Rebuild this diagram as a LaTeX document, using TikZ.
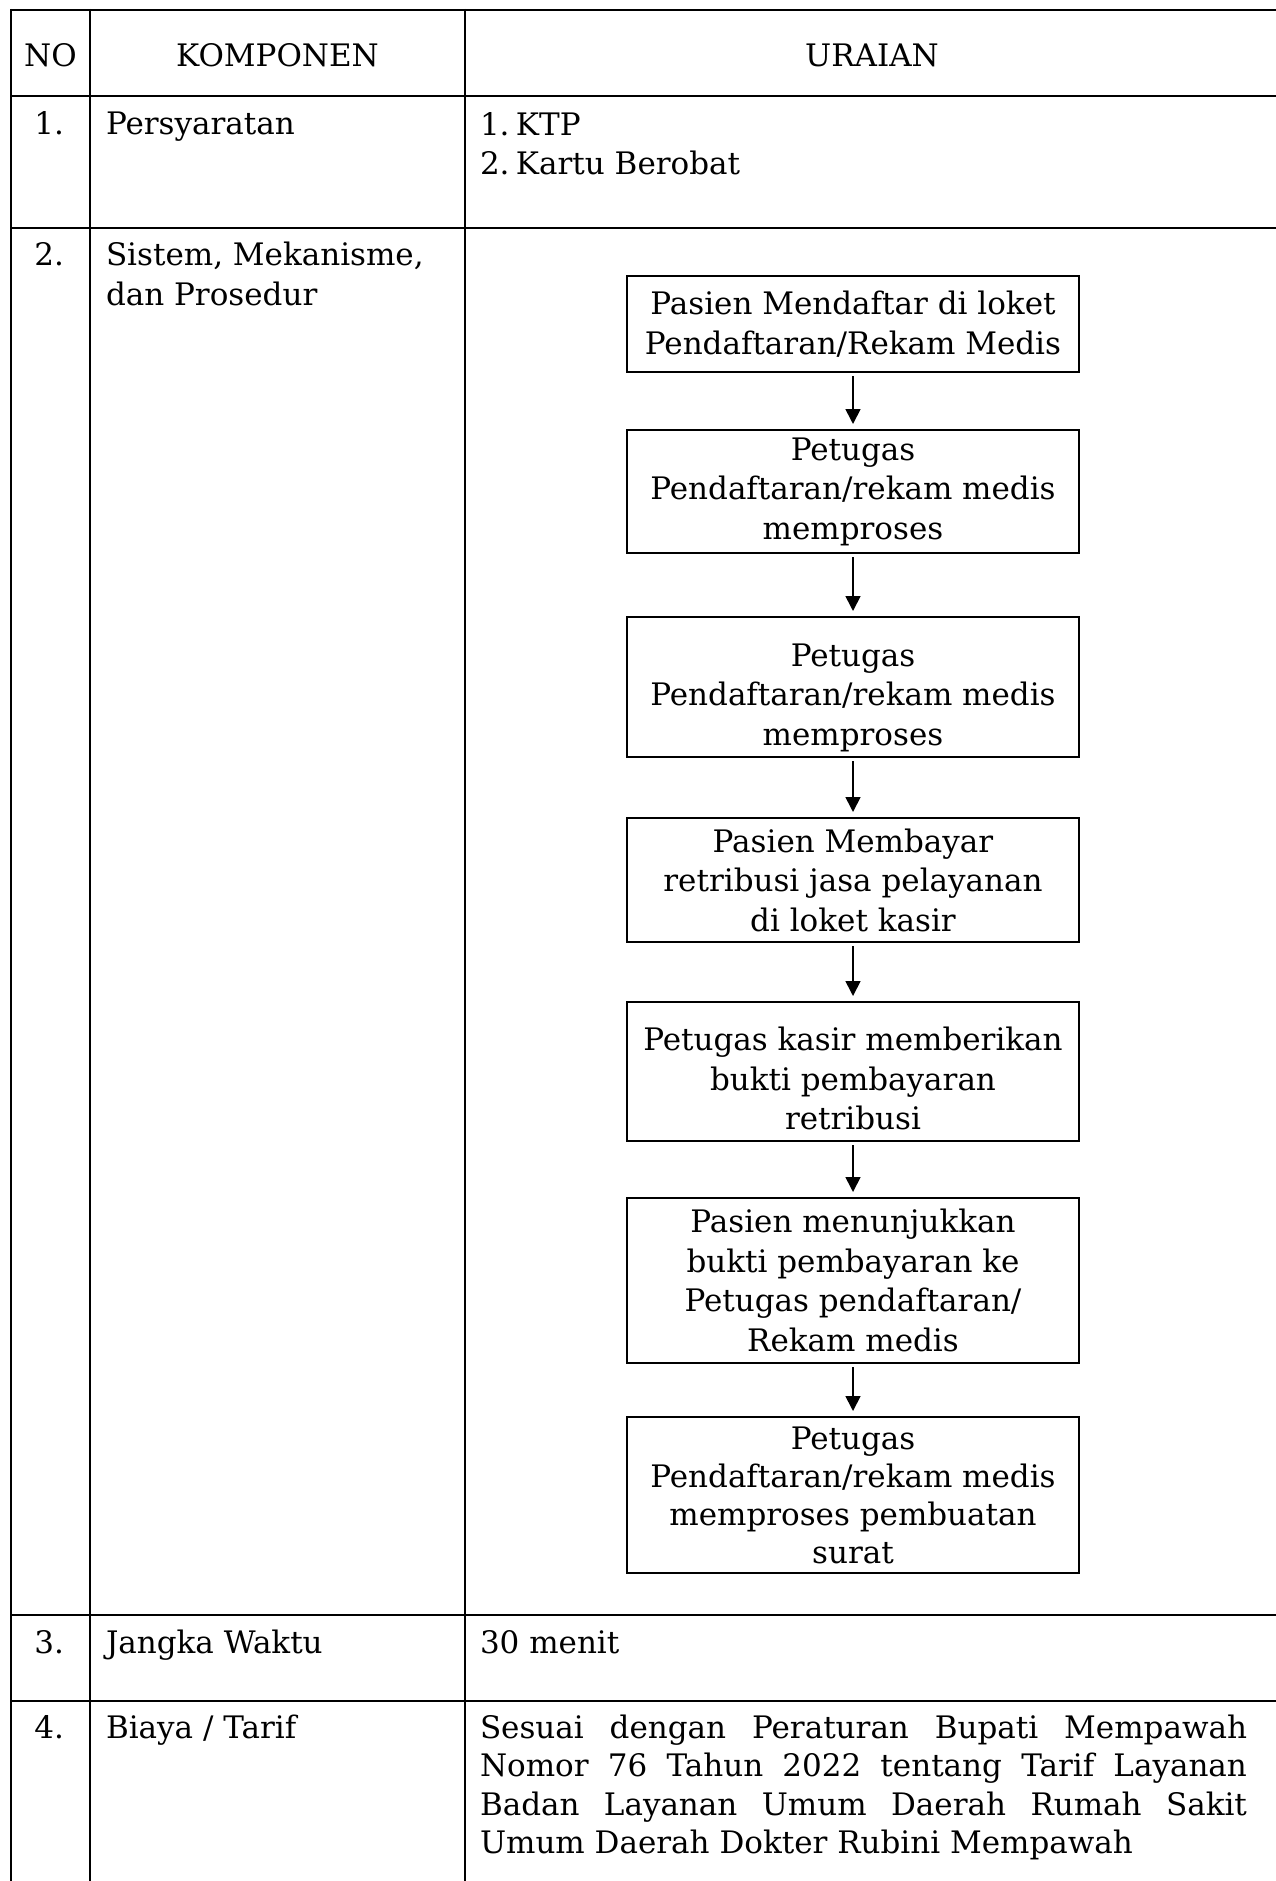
\documentclass[tikz,border=0pt]{standalone}
\usepackage{fontspec}
\setmainfont{DejaVu Serif}
\usetikzlibrary{positioning, arrows.meta}

\newcommand{\isi}{\fontsize{31}{39.5}\selectfont}

\begin{document}
\begin{tikzpicture}[x=1pt, y=-1pt,
    every node/.style={inner sep=0pt, outer sep=0pt, font=\isi},
    kotak/.style={draw, line width=2.7pt, minimum width=452pt, align=center},
    garis/.style={line width=2.7pt},
    tegak/.style={line width=1.7pt},
    >={Triangle[length=15pt, width=15pt]}]

\useasboundingbox (0,0) rectangle (1276,1881);
\clip (0,0) rectangle (1276,1881);

% Garis tabel
\draw[garis] (10,10) -- (1290,10);
\draw[garis] (10,96) -- (1290,96);
\draw[garis] (10,228) -- (1290,228);
\draw[garis] (10,1615) -- (1290,1615);
\draw[garis] (10,1701) -- (1290,1701);
\draw[tegak] (11,9) -- (11,1890);
\draw[tegak] (90,9) -- (90,1890);
\draw[tegak] (465,9) -- (465,1890);
\draw[garis] (11,1701) -- (11,1890);
\draw[garis] (90,1701) -- (90,1890);

% Kepala tabel
\node[anchor=base] (no) at (50.5,67) {NO};
\node[anchor=base] (komp) at (277.5,67) {KOMPONEN};
\node[anchor=base] (urai) at (872,67) {URAIAN};

% Baris 1
\node[anchor=base east] (n1) at (64,135) {1.};
\node[anchor=base west] (syarat) at (106,135) {Persyaratan};
\node[anchor=base west, align=left] (daftar) at (480,175)
  {\makebox[36pt][l]{1.}KTP\\\makebox[36pt][l]{2.}Kartu Berobat};

% Baris 2
\node[anchor=base east] (n2) at (64,265) {2.};
\node[anchor=base west, align=left] (sistem) at (106,305) {Sistem, Mekanisme,\\dan Prosedur};

% Alur pelayanan
\node[kotak, minimum height=96pt] (p1) at (853,324) {Pasien Mendaftar di loket\\Pendaftaran/Rekam Medis};
\node[kotak, minimum height=123pt, below=58pt of p1] (p2) {Petugas\\Pendaftaran/rekam medis\\memproses};
\node[kotak, minimum height=140pt, below=64pt of p2] (p3) {\rule{0pt}{44pt}Petugas\\Pendaftaran/rekam medis\\memproses};
\node[kotak, minimum height=124pt, below=61pt of p3] (p4) {Pasien Membayar\\retribusi jasa pelayanan\\di loket kasir};
\node[kotak, minimum height=139pt, below=60pt of p4] (p5) {\rule{0pt}{38pt}Petugas kasir memberikan\\bukti pembayaran\\retribusi};
\node[kotak, minimum height=165pt, below=57pt of p5] (p6) {Pasien menunjukkan\\bukti pembayaran ke\\Petugas pendaftaran/\\Rekam medis};
\node[kotak, minimum height=156pt, below=54pt of p6, font=\fontsize{31}{38}\selectfont] (p7) {Petugas\\Pendaftaran/rekam medis\\memproses pembuatan\\surat};

% Panah
\draw[->, tegak, shorten <=4pt, shorten >=6pt] (p1) -- (p2);
\draw[->, tegak, shorten <=4pt, shorten >=6pt] (p2) -- (p3);
\draw[->, tegak, shorten <=4pt, shorten >=6pt] (p3) -- (p4);
\draw[->, tegak, shorten <=4pt, shorten >=6pt] (p4) -- (p5);
\draw[->, tegak, shorten <=4pt, shorten >=6pt] (p5) -- (p6);
\draw[->, tegak, shorten <=4pt, shorten >=6pt] (p6) -- (p7);

% Baris 3
\node[anchor=base east] (n3) at (64,1653) {3.};
\node[anchor=base west] (waktu) at (106,1653) {Jangka Waktu};
\node[anchor=base west] (menit) at (480,1653) {30 menit};

% Baris 4
\node[anchor=base east] (n4) at (64,1738) {4.};
\node[anchor=base west] (biaya) at (106,1738) {Biaya / Tarif};
\node[anchor=base west, text width=767pt, align=justify, font=\fontsize{31}{38.5}\selectfont] (tarif) at (480,1738)
  {\hyphenpenalty=10000 Sesuai dengan Peraturan Bupati Mempawah\linebreak
   Nomor 76 Tahun 2022 tentang Tarif Layanan\linebreak
   Badan Layanan Umum Daerah Rumah Sakit\linebreak
   Umum Daerah Dokter Rubini Mempawah};

\end{tikzpicture}
\end{document}
